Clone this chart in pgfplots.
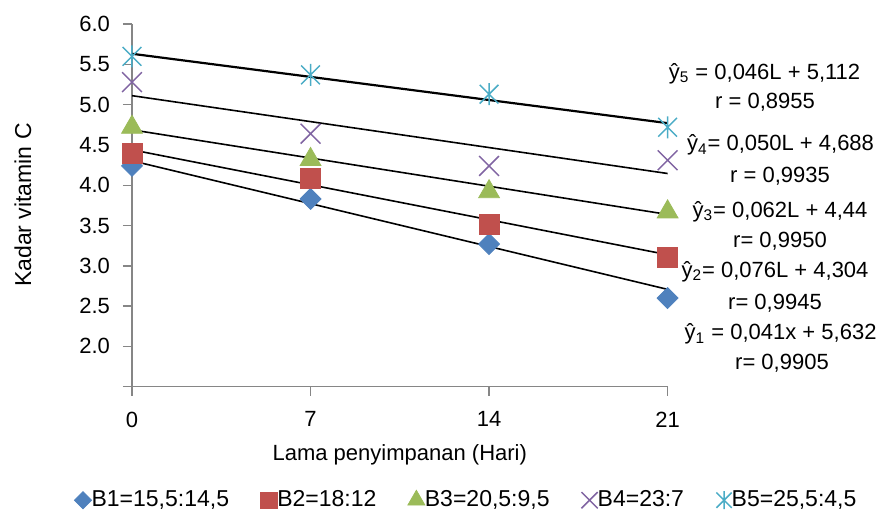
\documentclass[border=0pt]{standalone}
\usepackage{fontspec}
\setmainfont{Liberation Sans}
\usepackage{pgfplots}
\pgfplotsset{compat=1.18}
\definecolor{cB1}{HTML}{4F81BD}
\definecolor{cB2}{HTML}{C0504D}
\definecolor{cB3}{HTML}{9BBB59}
\definecolor{cB4}{HTML}{8064A2}
\definecolor{cB5}{HTML}{4BACC6}
\definecolor{axgray}{HTML}{868686}
\pgfdeclareplotmark{xstar}{%
  \pgfpathmoveto{\pgfqpoint{0pt}{-\pgfplotmarksize}}%
  \pgfpathlineto{\pgfqpoint{0pt}{\pgfplotmarksize}}%
  \pgfpathmoveto{\pgfqpoint{-.85\pgfplotmarksize}{-.85\pgfplotmarksize}}%
  \pgfpathlineto{\pgfqpoint{.85\pgfplotmarksize}{.85\pgfplotmarksize}}%
  \pgfpathmoveto{\pgfqpoint{-.85\pgfplotmarksize}{.85\pgfplotmarksize}}%
  \pgfpathlineto{\pgfqpoint{.85\pgfplotmarksize}{-.85\pgfplotmarksize}}%
  \pgfusepathqstroke}
\newcommand{\bigf}{\fontsize{11.5}{13.8}\selectfont}
\newcommand{\midf}{\fontsize{11}{13.2}\selectfont}
\begin{document}
\begin{tikzpicture}
\useasboundingbox (-66pt,-62.15pt) rectangle (372.5pt,193.35pt);
\begin{axis}[
  at={(0pt,0pt)}, anchor=south west,
  scale only axis, width=267.8pt, height=181.3pt,
  xmin=0, xmax=21, ymin=1.5, ymax=6,
  axis lines=left,
  axis line style={draw=axgray, line width=0.75pt, -},
  tick style={draw=axgray, line width=0.75pt},
  tick align=outside, major tick length=4.5pt,
  xtick={0,7,14,21}, xticklabels={0,7,14,21},
  ytick={1.5,2,...,6}, yticklabels={,2.0,2.5,3.0,3.5,4.0,4.5,5.0,5.5,6.0},
  ticklabel style={font=\midf},
  yticklabel style={xshift=-3pt},
  xticklabel style={yshift=-4.5pt},
  clip=false,
  legend columns=5,
  legend style={draw=none, fill=none, inner sep=0pt, outer sep=0pt,
    at={(axis description cs:0,0)}, anchor=west, xshift=-29.5pt, yshift=-56.65pt,
    font=\bigf, nodes={inner sep=0pt},
    /tikz/every even column/.append style={column sep=15pt}},
  legend image code/.code={\path[draw=none,fill=none] (0pt,-2pt) rectangle (6pt,2pt); \draw[every mark/.append style={scale=0.82}] plot coordinates {(5pt,0pt)};},
]
\addplot[only marks, mark=square*, mark size=3.7pt, color=cB1, mark options={rotate=45, fill=cB1, draw=cB1}]
  coordinates {(0,4.24) (7,3.83) (14,3.27) (21,2.60)};
\addlegendentry{B1=15,5:14,5}
\addplot[only marks, mark=square*, mark size=5pt, color=cB2, mark options={fill=cB2, draw=cB2}]
  coordinates {(0,4.40) (7,4.08) (14,3.52) (21,3.11)};
\addlegendentry{B2=18:12}
\addplot[only marks, mark=triangle*, mark size=6pt, color=cB3, mark options={fill=cB3, draw=cB3}]
  coordinates {(0,4.72) (7,4.32) (14,3.92) (21,3.67)};
\addlegendentry{B3=20,5:9,5}
\addplot[only marks, mark=x, mark size=7pt, color=cB4, mark options={line width=0.75pt}]
  coordinates {(0,5.28) (7,4.64) (14,4.24) (21,4.31)};
\addlegendentry{B4=23:7}
\addplot[only marks, mark=xstar, mark size=5.5pt, color=cB5, mark options={line width=0.75pt}]
  coordinates {(0,5.60) (7,5.37) (14,5.13) (21,4.72)};
\addlegendentry{B5=25,5:4,5}
% trend lines
\addplot[black, line width=0.8pt, forget plot] coordinates {(0,4.304) (21,2.708)};
\addplot[black, line width=0.8pt, forget plot] coordinates {(0,4.440) (21,3.138)};
\addplot[black, line width=0.8pt, forget plot] coordinates {(0,4.688) (21,3.638)};
\addplot[black, line width=0.8pt, forget plot] coordinates {(0,5.112) (21,4.146)};
\addplot[black, line width=1.1pt, forget plot] coordinates {(0,5.632) (21,4.771)};
\end{axis}
\node[rotate=90, font=\bigf] at (-54.5pt,90.85pt) {Kadar vitamin C};
\node[font=\midf] at (133.9pt,-34pt) {Lama penyimpanan (Hari)};
\node[font=\midf] at (316.25pt,156.7pt) {ŷ\textsubscript{5} = 0,046L + 5,112};
\node[font=\midf] at (316.5pt,142.35pt) {r = 0,8955};
\node[font=\midf] at (324.25pt,120.85pt) {ŷ\textsubscript{4}= 0,050L + 4,688};
\node[font=\midf] at (324pt,105pt) {r = 0,9935};
\node[font=\midf] at (324pt,87.5pt) {ŷ\textsubscript{3}= 0,062L + 4,44};
\node[font=\midf] at (324pt,72.5pt) {r= 0,9950};
\node[font=\midf] at (321.5pt,57.5pt) {ŷ\textsubscript{2}= 0,076L + 4,304};
\node[font=\midf] at (321.5pt,41.7pt) {r= 0,9945};
\node[font=\midf] at (324.3pt,26.35pt) {ŷ\textsubscript{1} = 0,041x + 5,632};
\node[font=\midf] at (325pt,11.85pt) {r= 0,9905};
\end{tikzpicture}
\end{document}
